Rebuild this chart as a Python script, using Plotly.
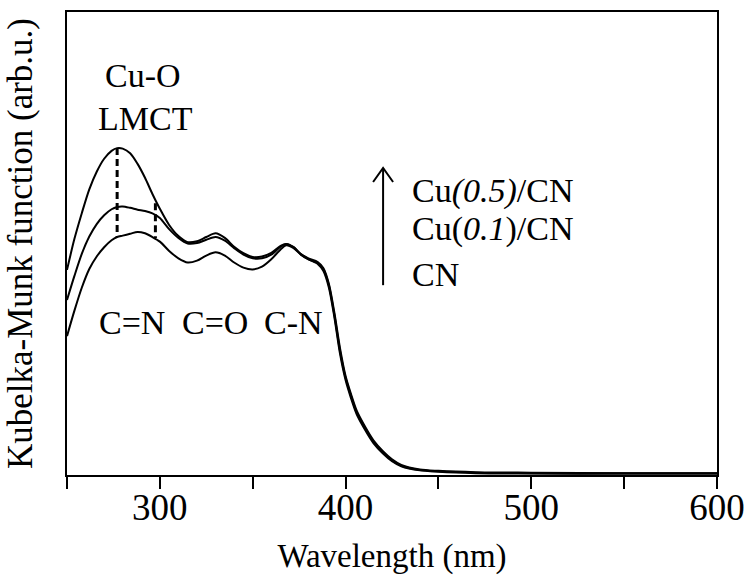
import plotly.graph_objects as go

# ---------------- data ----------------
wavelength = [250, 254, 258, 262, 266, 270, 274, 277, 280, 284, 288, 292, 296, 300,
              305, 310, 315, 320, 325, 330, 335, 340, 345, 350, 355, 360, 365, 368,
              372, 376, 380, 385, 388, 391, 394, 397, 400, 403, 406, 410, 415, 420,
              425, 430, 440, 450, 470, 500, 550, 600]

km_cu05 = [0.443, 0.510, 0.566, 0.617, 0.655, 0.683, 0.700, 0.706, 0.705, 0.695, 0.672,
           0.642, 0.607, 0.575, 0.540, 0.516, 0.503, 0.505, 0.514, 0.522, 0.512, 0.493,
           0.479, 0.471, 0.472, 0.480, 0.495, 0.499, 0.492, 0.476, 0.466, 0.458, 0.445,
           0.410, 0.345, 0.268, 0.210, 0.170, 0.135, 0.105, 0.072, 0.050, 0.032, 0.020,
           0.011, 0.008, 0.005, 0.004, 0.003, 0.003]

km_cu01 = [0.378, 0.430, 0.478, 0.515, 0.542, 0.561, 0.574, 0.579, 0.580, 0.577, 0.573,
           0.570, 0.565, 0.555, 0.531, 0.512, 0.500, 0.501, 0.508, 0.514, 0.506, 0.490,
           0.476, 0.468, 0.468, 0.476, 0.493, 0.499, 0.492, 0.477, 0.468, 0.460, 0.447,
           0.413, 0.350, 0.274, 0.214, 0.174, 0.139, 0.108, 0.075, 0.052, 0.034, 0.022,
           0.012, 0.009, 0.006, 0.005, 0.004, 0.004]

km_cn = [0.300, 0.355, 0.405, 0.445, 0.472, 0.492, 0.507, 0.514, 0.517, 0.521, 0.525,
         0.522, 0.514, 0.504, 0.484, 0.468, 0.459, 0.463, 0.474, 0.481, 0.474, 0.459,
         0.448, 0.444, 0.450, 0.466, 0.487, 0.496, 0.490, 0.476, 0.466, 0.456, 0.441,
         0.405, 0.340, 0.262, 0.205, 0.165, 0.131, 0.101, 0.069, 0.047, 0.030, 0.019,
         0.010, 0.007, 0.004, 0.003, 0.003, 0.003]

# dashed markers of the Cu-O LMCT band
lmct_wl = [277, 297.6]
lmct_top = [0.706, 0.587]
lmct_bottom = [0.514, 0.512]

tick_vals = [250, 300, 350, 400, 450, 500, 550, 600]
tick_text = ["", "300", "", "400", "", "500", "", "600"]

band_labels = ["C=N", "C=O", "C-N"]
band_wl = [285.0, 329.7, 371.7]

legend_labels = ["Cu<i>(0.5)</i>/CN", "Cu(<i>0.1</i>)/CN", "CN"]
legend_y = [0.613, 0.531, 0.434]

FONT = "Liberation Serif"

fig = go.Figure()
for ys in (km_cn, km_cu01, km_cu05):
    fig.add_trace(go.Scatter(x=wavelength, y=ys, mode="lines",
                             line=dict(color="black", width=2, shape="spline", smoothing=0.8),
                             showlegend=False, hoverinfo="skip"))

for wl, yt, yb in zip(lmct_wl, lmct_top, lmct_bottom):
    fig.add_trace(go.Scatter(x=[wl, wl], y=[yt, yb], mode="lines",
                             line=dict(color="black", width=3, dash="7px,4px"),
                             showlegend=False, hoverinfo="skip"))

annotations = []
annotations.append(dict(x=290.9, y=0.862, text="Cu-O", showarrow=False,
                        xanchor="center", yanchor="middle"))
annotations.append(dict(x=292.0, y=0.769, text="LMCT", showarrow=False,
                        xanchor="center", yanchor="middle"))
for lab, wl in zip(band_labels, band_wl):
    annotations.append(dict(x=wl, y=0.330, text=lab, showarrow=False,
                            xanchor="center", yanchor="middle"))
for lab, yy in zip(legend_labels, legend_y):
    annotations.append(dict(x=434.7, y=yy, text=lab, showarrow=False,
                            xanchor="left", yanchor="middle"))
for a in annotations:
    a.update(xref="x", yref="y", font=dict(family=FONT, size=34))

# arrow (up) next to sample labels
arrow_x, arrow_top, arrow_bottom = 420.2, 0.663, 0.410
dx, dy = 10 * 350 / 650, 14 / 463
shapes = [
    dict(type="line", xref="x", yref="y", x0=arrow_x, x1=arrow_x, y0=arrow_bottom, y1=arrow_top,
         line=dict(color="black", width=2)),
    dict(type="path", xref="x", yref="y",
         path=f"M {arrow_x-dx},{arrow_top-dy} L {arrow_x},{arrow_top} L {arrow_x+dx},{arrow_top-dy}",
         line=dict(color="black", width=2)),
]

fig.update_layout(
    width=748, height=575,
    margin=dict(l=67, r=31, t=12, b=100),
    paper_bgcolor="white", plot_bgcolor="white",
    font=dict(family=FONT, size=34, color="black"),
    annotations=annotations, shapes=shapes,
    xaxis=dict(range=[250, 600], tickmode="array", tickvals=tick_vals, ticktext=tick_text,
               ticks="outside", ticklen=12, tickwidth=2, tickcolor="black",
               ticklabelstandoff=-13,
               showline=True, linecolor="black", linewidth=2, mirror=True,
               showgrid=False, zeroline=False, automargin=False,
               tickfont=dict(family=FONT, size=37),
               title=dict(text="Wavelength (nm)", font=dict(family=FONT, size=33),
                          standoff=25)),
    yaxis=dict(range=[0, 1], showticklabels=False, ticks="",
               showline=True, linecolor="black", linewidth=2, mirror=True,
               showgrid=False, zeroline=False, automargin=False,
               title=dict(text="Kubelka-Munk function (arb.u.)",
                          font=dict(family=FONT, size=35), standoff=22)),
)

fig.write_html("out.html")
